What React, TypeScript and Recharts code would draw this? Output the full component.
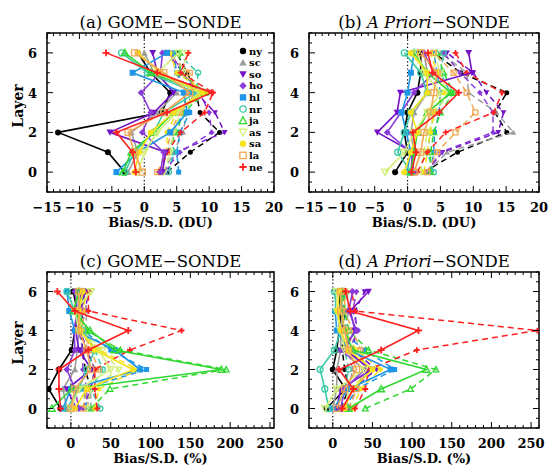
import React from "react";
import { ScatterChart, Scatter, XAxis, YAxis, ReferenceLine, ReferenceArea } from "recharts";

const layers = [0, 1, 2, 3, 4, 5, 6];
const stations = ["ny", "sc", "so", "ho", "hl", "nr", "ja", "as", "sa", "la", "ne"];
const stationColors = [
  "#000000", "#9c9c9c", "#7412c8", "#8a3cd8", "#1e96e8", "#3ccaa8",
  "#2fd82f", "#d2f078", "#f6e21c", "#f2a852", "#ff2020",
];
const stationMarkers = ["dot", "tri", "tridown", "diamond", "square", "ring", "otri", "otridown", "dot", "osquare", "plus"];

const duTicks = [-15, -10, -5, 0, 5, 10, 15, 20];
const pctTicks = [0, 50, 100, 150, 200, 250];
const layerTicks = [0, 2, 4, 6];

// (a) GOME - SONDE, DU  (rows = stations, cols = layers 0..6)
const gomeBiasDU = [
  [-3.0, -5.6, -13.3, 2.7, 4.0, 1.0, -1.0],
  [-2.5, -1.0, -2.0, 2.0, 5.0, 1.5, 0.0],
  [2.8, 3.3, -5.3, 1.5, 4.5, 2.0, 1.3],
  [2.5, 3.0, -0.3, 1.0, -0.5, 2.5, 2.8],
  [-4.3, -1.0, 4.0, 6.6, 6.1, -1.8, 3.5],
  [-3.0, -1.5, 1.5, 3.0, 8.0, 0.5, -3.5],
  [-3.3, -2.0, 1.5, 4.5, 9.1, 1.0, -3.0],
  [-1.0, 0.0, 2.0, 5.0, 8.5, 2.0, 5.3],
  [-1.5, -0.8, 1.0, 4.5, 9.0, 2.5, -1.0],
  [-0.3, -1.5, -2.5, 3.0, 7.0, 3.0, -1.5],
  [-1.3, -1.8, -4.3, 3.5, 10.4, 2.0, -5.9],
];
const gomeSdDU = [
  [3.5, 7.1, 11.6, 8.6, 8.0, 6.6, 5.0],
  [3.0, 4.5, 6.0, 6.5, 6.0, 5.0, 4.0],
  [3.5, 4.8, 12.4, 10.9, 8.0, 6.0, 3.5],
  [3.0, 5.5, 10.4, 10.0, 8.5, 6.0, 4.0],
  [5.3, 5.0, 5.5, 7.0, 7.0, 5.0, 4.5],
  [3.8, 4.5, 4.5, 6.0, 8.0, 8.3, 5.0],
  [2.5, 3.5, 5.0, 6.0, 9.5, 5.5, 5.5],
  [3.0, 4.0, 4.5, 5.5, 9.0, 6.0, 6.5],
  [2.5, 3.5, 3.5, 5.0, 9.5, 5.0, 4.0],
  [2.0, 3.5, 4.0, 5.5, 8.0, 7.0, 3.5],
  [2.3, 3.5, 5.6, 9.3, 10.6, 5.6, 6.8],
];

// (b) A Priori - SONDE, DU
const aprioriBiasDU = [
  [-1.9, 0.0, -0.5, 0.0, 1.5, 2.0, 2.0],
  [0.5, 1.0, 0.5, 1.0, 3.0, 3.0, 2.5],
  [0.5, 0.8, -4.6, -1.6, -1.1, 9.8, 9.3],
  [1.0, 0.5, -3.1, -1.0, 1.0, 4.0, 2.5],
  [-0.1, 0.5, -0.2, -0.9, 0.0, 0.5, 1.0],
  [0.5, -1.5, -0.5, 0.5, 3.0, 2.0, -0.5],
  [0.5, 1.0, 1.5, 3.0, 6.6, 3.0, 1.0],
  [-3.4, -0.5, 1.0, 3.0, 5.0, 2.5, 1.5],
  [-0.5, 0.5, 1.5, 0.5, 3.0, 3.0, 0.5],
  [1.0, 2.0, 2.5, 3.5, 4.0, 4.5, 2.0],
  [0.6, 1.3, 0.8, 4.8, 7.8, 3.8, 3.1],
];
const aprioriSdDU = [
  [2.5, 7.6, 15.1, 13.3, 15.1, 8.1, 4.0],
  [3.0, 6.0, 16.1, 13.5, 9.3, 9.0, 5.0],
  [2.8, 5.3, 13.8, 14.6, 12.0, 10.0, 6.0],
  [3.0, 5.0, 13.0, 13.0, 11.0, 8.0, 5.5],
  [3.5, 4.0, 4.1, 4.8, 5.0, 4.5, 4.0],
  [4.0, 3.0, 3.5, 4.0, 6.5, 5.0, 5.5],
  [3.5, 3.5, 4.0, 5.0, 7.0, 5.5, 4.5],
  [2.0, 2.5, 3.0, 4.5, 6.0, 5.0, 4.0],
  [2.5, 3.0, 3.5, 4.0, 5.5, 4.5, 3.5],
  [3.0, 4.5, 7.3, 10.3, 9.0, 7.0, 4.0],
  [1.5, 3.0, 5.8, 13.1, 14.4, 9.0, 7.3],
];

// (c) GOME - SONDE, %
const gomeBiasPct = [
  [-13, -28, -15, 1, 5, 8, 3],
  [-5, -10, 5, 8, 10, 10, 8],
  [7, -5, 26, 10, 6, 12, 18],
  [10, 5, -5, 5, 4, 8, 5],
  [-10, 0, 87, 55, 5, -2, -5],
  [-5, 10, 20, 30, 15, 5, -5],
  [-24, 1, 189, 55, 24, 3, 10],
  [0, 10, 50, 35, 10, 5, 25],
  [5, 20, 78, 30, 12, 10, 15],
  [0, 5, 25, 20, 10, 10, 10],
  [-13, -15, -15, 22, 72, 5, -17],
];
const gomeSdPct = [
  [20, 25, 18, 15, 12, 15, 12],
  [25, 25, 30, 20, 18, 20, 15],
  [15, 25, 30, 20, 12, 18, 22],
  [20, 20, 15, 15, 10, 15, 12],
  [20, 15, 95, 50, 15, 10, 10],
  [37, 25, 40, 30, 15, 12, 15],
  [25, 49, 195, 62, 20, 8, 15],
  [20, 25, 60, 40, 15, 10, 25],
  [30, 35, 85, 35, 15, 15, 20],
  [15, 20, 35, 25, 15, 15, 15],
  [33, 30, 30, 74, 139, 22, 22],
];

// (d) A Priori - SONDE, %
const aprioriBiasPct = [
  [-8, 16, 0, 5, 8, 10, 8],
  [0, 5, 5, 10, 10, 12, 10],
  [5, 10, 49, 15, 28, 22, 45],
  [10, 15, 40, 10, 30, 20, 25],
  [0, 20, 73, 20, 5, 3, 5],
  [-5, -10, -16, 2, 10, 5, 2],
  [20, 61, 118, 25, 15, 10, 12],
  [-10, 5, 40, 15, 10, 5, 5],
  [15, 25, 50, 20, 10, 6, 8],
  [5, 15, 30, 20, 15, 10, 10],
  [12, 26, 8, 61, 108, 22, 16],
];
const aprioriSdPct = [
  [10, 20, 15, 12, 12, 15, 12],
  [15, 20, 25, 20, 15, 20, 18],
  [15, 25, 55, 25, 30, 28, 40],
  [20, 30, 45, 20, 32, 25, 30],
  [15, 30, 78, 40, 10, 10, 10],
  [10, 15, 20, 15, 20, 15, 12],
  [41, 98, 130, 45, 20, 15, 15],
  [15, 20, 50, 25, 15, 12, 10],
  [25, 35, 60, 30, 15, 12, 12],
  [20, 30, 40, 35, 25, 15, 15],
  [28, 41, 45, 106, 258, 28, 24],
];

const FONT = "'DejaVu Serif', serif";
const W = 548;
const H = 469;
const AXW = 20;
const AXH = 20;

function range(a: number, b: number, step: number) {
  const out: number[] = [];
  for (let v = a; v <= b + 1e-9; v += step) out.push(Math.round(v * 100) / 100);
  return out;
}

const fmt = (v: number) => (v < 0 ? `\u2212${Math.abs(v)}` : `${v}`);

function Marker({ cx, cy, kind, color, s }: any) {
  if (cx == null || cy == null) return null;
  const k = s * 1.15;
  switch (kind) {
    case "dot":
      return <circle cx={cx} cy={cy} r={s} fill={color} />;
    case "ring":
      return <circle cx={cx} cy={cy} r={s} fill="none" stroke={color} strokeWidth={1.3} />;
    case "tri":
    case "otri": {
      const pts = `${cx},${cy - k} ${cx - k},${cy + k * 0.8} ${cx + k},${cy + k * 0.8}`;
      return kind === "tri" ? (
        <polygon points={pts} fill={color} />
      ) : (
        <polygon points={pts} fill="none" stroke={color} strokeWidth={1.3} />
      );
    }
    case "tridown":
    case "otridown": {
      const pts = `${cx},${cy + k} ${cx - k},${cy - k * 0.8} ${cx + k},${cy - k * 0.8}`;
      return kind === "tridown" ? (
        <polygon points={pts} fill={color} />
      ) : (
        <polygon points={pts} fill="none" stroke={color} strokeWidth={1.3} />
      );
    }
    case "diamond":
      return <polygon points={`${cx},${cy - k} ${cx + k},${cy} ${cx},${cy + k} ${cx - k},${cy}`} fill={color} />;
    case "square":
      return <rect x={cx - s} y={cy - s} width={s * 2} height={s * 2} fill={color} />;
    case "osquare":
      return <rect x={cx - s} y={cy - s} width={s * 2} height={s * 2} fill="none" stroke={color} strokeWidth={1.3} />;
    case "plus":
      return <path d={`M${cx - k},${cy}H${cx + k}M${cx},${cy - k}V${cy + k}`} stroke={color} strokeWidth={1.8} />;
    default:
      return null;
  }
}

type Panel = {
  id: string;
  title: React.ReactNode;
  frame: { l: number; r: number; t: number; b: number };
  xDomain: [number, number];
  major: number[];
  minorStep: number;
  xLabel: string;
  bias: number[][];
  sd: number[][];
  layerLabel: boolean;
};

const panels: Panel[] = [
  {
    id: "a",
    title: <>(a) GOME&minus;SONDE</>,
    frame: { l: 47, r: 274, t: 33, b: 192 },
    xDomain: [-15, 20],
    major: duTicks,
    minorStep: 1,
    xLabel: "Bias/S.D. (DU)",
    bias: gomeBiasDU,
    sd: gomeSdDU,
    layerLabel: true,
  },
  {
    id: "b",
    title: <>(b) <i>A Priori</i>&minus;SONDE</>,
    frame: { l: 309, r: 539, t: 33, b: 192 },
    xDomain: [-15, 20],
    major: duTicks,
    minorStep: 1,
    xLabel: "Bias/S.D. (DU)",
    bias: aprioriBiasDU,
    sd: aprioriSdDU,
    layerLabel: false,
  },
  {
    id: "c",
    title: <>(c) GOME&minus;SONDE</>,
    frame: { l: 47, r: 274, t: 272, b: 428 },
    xDomain: [-30, 255],
    major: pctTicks,
    minorStep: 10,
    xLabel: "Bias/S.D. (%)",
    bias: gomeBiasPct,
    sd: gomeSdPct,
    layerLabel: true,
  },
  {
    id: "d",
    title: <>(d) <i>A Priori</i>&minus;SONDE</>,
    frame: { l: 309, r: 539, t: 272, b: 428 },
    xDomain: [-30, 260],
    major: pctTicks,
    minorStep: 10,
    xLabel: "Bias/S.D. (%)",
    bias: aprioriBiasPct,
    sd: aprioriSdPct,
    layerLabel: false,
  },
];

const toPoints = (vals: number[]) => layers.map((l, i) => ({ x: vals[i], y: l }));

function PanelChart({ p }: { p: Panel }) {
  const { l, r, t, b } = p.frame;
  const plotH = b - t;
  const plotW = r - l;
  const xTicks = range(Math.ceil(p.xDomain[0] / p.minorStep) * p.minorStep, p.xDomain[1], p.minorStep);
  const yTicks = range(-1, 7, 0.5);

  const xTick = (props: any) => {
    const { x, y, payload } = props;
    const v = payload.value;
    const major = p.major.includes(v);
    const len = major ? 6 : 3;
    return (
      <g>
        <line x1={x} x2={x} y1={y} y2={y - len} stroke="#000" strokeWidth={1} />
        <line x1={x} x2={x} y1={y - plotH} y2={y - plotH + len} stroke="#000" strokeWidth={1} />
        {major && (
          <text x={x} y={y + 20} textAnchor="middle" fontFamily={FONT} fontSize={13} fontWeight="bold" fill="#000">
            {fmt(v)}
          </text>
        )}
      </g>
    );
  };

  const yTick = (props: any) => {
    const { x, y, payload } = props;
    const v = payload.value;
    const major = layerTicks.includes(v);
    const len = major ? 6 : 3;
    return (
      <g>
        <line x1={x} x2={x + len} y1={y} y2={y} stroke="#000" strokeWidth={1} />
        <line x1={x + plotW} x2={x + plotW - len} y1={y} y2={y} stroke="#000" strokeWidth={1} />
        {major && (
          <text x={x - 10} y={y + 5} textAnchor="end" fontFamily={FONT} fontSize={13} fontWeight="bold" fill="#000">
            {fmt(v)}
          </text>
        )}
      </g>
    );
  };

  return (
    <div style={{ position: "absolute", left: 0, top: 0 }}>
      <ScatterChart
        width={W}
        height={H}
        margin={{ top: t, left: l - AXW, right: W - r, bottom: H - b - AXH }}
      >
        <XAxis
          type="number"
          dataKey="x"
          domain={p.xDomain}
          allowDataOverflow
          ticks={xTicks}
          interval={0}
          height={AXH}
          tickSize={0}
          tickMargin={0}
          tickLine={false}
          axisLine={false}
          tick={xTick}
        />
        <YAxis
          type="number"
          dataKey="y"
          domain={[-1, 7]}
          allowDataOverflow
          ticks={yTicks}
          interval={0}
          width={AXW}
          tickSize={0}
          tickMargin={0}
          tickLine={false}
          axisLine={false}
          tick={yTick}
        />
        <ReferenceLine x={0} stroke="#000" strokeWidth={1.2} strokeDasharray="1.2 2.4" />
        {stations.map((s, i) => (
          <Scatter
            key={`sd-${s}`}
            data={toPoints(p.sd[i])}
            fill={stationColors[i]}
            line={{ stroke: stationColors[i], strokeWidth: 1.5, strokeDasharray: "6 4" }}
            shape={(sp: any) => (
              <Marker cx={sp.cx} cy={sp.cy} kind={stationMarkers[i]} color={stationColors[i]} s={2.5} />
            )}
            isAnimationActive={false}
          />
        ))}
        {stations.map((s, i) => (
          <Scatter
            key={`bias-${s}`}
            data={toPoints(p.bias[i])}
            fill={stationColors[i]}
            line={{ stroke: stationColors[i], strokeWidth: 1.6 }}
            shape={(sp: any) => (
              <Marker cx={sp.cx} cy={sp.cy} kind={stationMarkers[i]} color={stationColors[i]} s={3} />
            )}
            isAnimationActive={false}
          />
        ))}
        <ReferenceArea
          x1={p.xDomain[0]}
          x2={p.xDomain[1]}
          y1={-1}
          y2={7}
          fill="none"
          fillOpacity={0}
          stroke="#000"
          strokeWidth={1.5}
        />
      </ScatterChart>
    </div>
  );
}

function StationKey({ left, top }: { left: number; top: number }) {
  return (
    <svg style={{ position: "absolute", left, top }} width={30} height={132}>
      {stations.map((s, i) => (
        <g key={s}>
          <Marker cx={5} cy={6 + i * 11.6} kind={stationMarkers[i]} color={stationColors[i]} s={3.2} />
          <text x={11} y={9.5 + i * 11.6} fontFamily={FONT} fontSize={10} fontWeight="bold" fill="#000">
            {s}
          </text>
        </g>
      ))}
    </svg>
  );
}

function TextAt({ cx, cy, size, bold, children, rotate }: any) {
  return (
    <div
      style={{
        position: "absolute",
        left: cx - 120,
        top: cy - 12,
        width: 240,
        height: 24,
        lineHeight: "24px",
        textAlign: "center",
        fontFamily: FONT,
        fontSize: size,
        fontWeight: bold ? "bold" : "normal",
        color: "#000",
        whiteSpace: "nowrap",
        transform: rotate ? `rotate(${rotate}deg)` : undefined,
      }}
    >
      {children}
    </div>
  );
}

export default function App() {
  return (
    <div style={{ position: "absolute", left: 0, top: 0, width: W, height: H, background: "#fff", overflow: "hidden" }}>
      {panels.map((p) => (
        <PanelChart key={p.id} p={p} />
      ))}
      {panels.map((p) => {
        const cx = (p.frame.l + p.frame.r) / 2;
        return (
          <React.Fragment key={`t-${p.id}`}>
            <TextAt cx={cx} cy={p.frame.t - 10} size={16.5}>
              {p.title}
            </TextAt>
            <TextAt cx={cx} cy={p.frame.b + 31} size={13} bold>
              {p.xLabel}
            </TextAt>
            {p.layerLabel && (
              <TextAt cx={18} cy={(p.frame.t + p.frame.b) / 2 - 7} size={14} bold rotate={-90}>
                Layer
              </TextAt>
            )}
          </React.Fragment>
        );
      })}
      <StationKey left={238} top={45} />
    </div>
  );
}
